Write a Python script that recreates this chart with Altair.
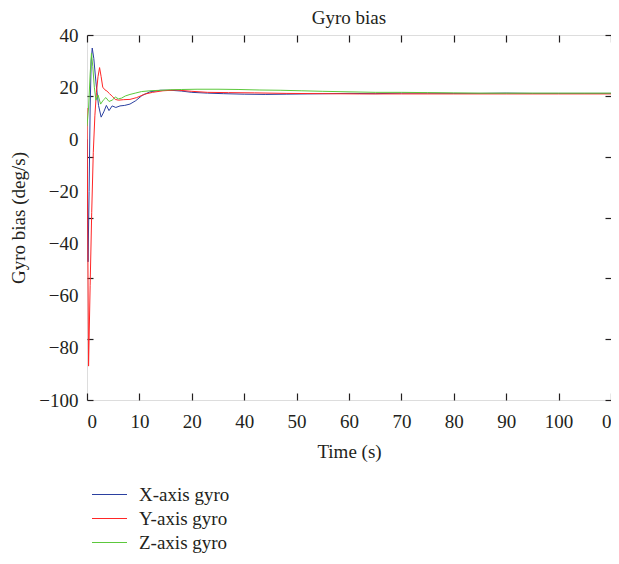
import altair as alt
import pandas as pd

FONT = "Liberation Serif"
INK = "#231f20"

# ---- data (time in axis units, bias in deg/s) ----
x_gyro_t = [0, 0.2, 0.4, 0.6, 0.8, 1.0, 1.3, 1.7, 2.2, 2.7, 3.2, 3.7, 4.2, 4.8, 5.5, 6.3, 7.2, 8.2,
            9.3, 10.5, 12, 14, 16, 18, 20, 23, 26, 30, 34, 38, 42, 46, 50, 55, 60, 65, 70, 75, 80,
            85, 90, 95, 100]
x_gyro_v = [0, -47, -20, 12, 30, 35, 31, 22, 13, 8.5, 10.5, 13, 11, 12.8, 12.2, 12.8, 13, 13.5,
            14.8, 16.8, 18.2, 18.8, 18.8, 18.5, 18.0, 17.7, 17.5, 17.3, 17.2, 17.3, 17.4, 17.5, 17.6,
            17.5, 17.7, 17.7, 17.6, 17.6, 17.7, 17.6, 17.6, 17.6, 17.6]

y_gyro_t = [0, 0.3, 0.6, 0.9, 1.2, 1.5, 1.8, 2.1, 2.4, 2.7, 3.0, 3.4, 3.8, 4.3, 4.8, 5.4, 6.0, 7.0,
            8.2, 9.5, 11, 12.5, 14.5, 17, 20, 23, 27, 32, 38, 45, 52, 60, 70, 80, 90, 100]
y_gyro_v = [12, -87, -56, -28, -5, 9, 18, 24, 27.5, 24, 20, 19, 18.5, 17.5, 16.5, 15.3, 15.0, 15.2,
            15.3, 16, 17.3, 18.0, 18.6, 18.9, 18.4, 18.0, 17.9, 17.8, 17.6, 17.5, 17.4, 17.4, 17.4,
            17.4, 17.4, 17.4]

z_gyro_t = [0, 0.3, 0.6, 0.85, 1.1, 1.4, 1.7, 2.1, 2.6, 3.1, 3.6, 4.2, 4.8, 5.4, 6.0, 6.6, 7.3, 8.2,
            9.2, 10.4, 12, 14, 16, 18, 21, 25, 29, 33, 37, 41, 45, 50, 55, 60, 65, 70, 75, 80, 90, 100]
z_gyro_v = [5, 12, 25, 33, 28, 20, 15, 17, 13.5, 15, 16, 14.5, 15, 16.2, 15.5, 15.8, 16.6, 17.2,
            17.7, 18.3, 18.6, 18.8, 19.0, 19.1, 19.2, 19.2, 19.1, 18.9, 18.8, 18.6, 18.4, 18.2, 18.0,
            18.0, 17.9, 17.8, 17.7, 17.7, 17.7, 17.7]

series_names = ["X-axis gyro", "Y-axis gyro", "Z-axis gyro"]
series_colors = ["#2b40a0", "#ff2626", "#5cc83c"]

x_tick_values = [0, 10, 20, 30, 40, 50, 60, 70, 80, 90, 100]
x_tick_labels = ["0", "10", "20", "40", "50", "60", "70", "80", "90", "100", "0"]
y_label_values = [40, 20, 0, -20, -40, -60, -80, -100]
y_tick_values = [40 - k * 140 / 6 for k in range(7)]

rows = []
for name, ts, vs in zip(series_names, [x_gyro_t, y_gyro_t, z_gyro_t], [x_gyro_v, y_gyro_v, z_gyro_v]):
    for i, (t, v) in enumerate(zip(ts, vs)):
        rows.append({"series": name, "t": t, "v": v, "order": i})
df = pd.DataFrame(rows)

xscale = alt.Scale(domain=[0, 100], nice=False, zero=False)
yscale = alt.Scale(domain=[-100, 40], nice=False, zero=False)

x_label_expr = "[" + ",".join("'%s'" % s for s in x_tick_labels) + "][round(datum.value / 10)]"

base = alt.Chart(df)

lines = base.mark_line(strokeWidth=1, clip=True).encode(
    x=alt.X("t:Q", scale=xscale, axis=alt.Axis(
        values=x_tick_values, labelExpr=x_label_expr, ticks=False, tickSize=0, domain=False,
        grid=False, title="Time (s)", labelPadding=12, titlePadding=11, labelFlush=True,
        labelOverlap=False, labelFont=FONT, labelFontSize=19, labelColor=INK,
        titleFont=FONT, titleFontSize=19, titleFontWeight="normal", titleColor=INK)),
    y=alt.Y("v:Q", scale=yscale, axis=alt.Axis(
        values=y_label_values, labelExpr="replace(datum.label, '-', '\u2212')", ticks=False,
        tickSize=0, domain=False, grid=False, title="Gyro bias (deg/s)", labelPadding=9,
        titlePadding=10, labelFlush=False, labelOverlap=False, labelFont=FONT, labelFontSize=19,
        labelColor=INK, titleFont=FONT, titleFontSize=19, titleFontWeight="normal",
        titleColor=INK)),
    color=alt.Color("series:N", scale=alt.Scale(domain=series_names, range=series_colors),
                    legend=alt.Legend(title=None, orient="none", legendX=13, legendY=450,
                                      symbolType="M-2.5,0H2.5", symbolSize=196,
                                      symbolStrokeWidth=1.2, labelFont=FONT, labelFontSize=19,
                                      labelColor=INK, labelOffset=20, rowPadding=4)),
    order="order:Q",
)


def tick_axis(orient, values, size):
    return alt.Axis(orient=orient, offset=-size, values=values, labels=False, domain=False,
                    grid=False, ticks=True, tickSize=size, tickColor=INK, tickWidth=1.2,
                    title=None)


ticks_bl = base.mark_line(opacity=0).encode(
    x=alt.X("t:Q", scale=xscale, axis=tick_axis("bottom", x_tick_values, 7)),
    y=alt.Y("v:Q", scale=yscale, axis=tick_axis("left", y_tick_values, 6)),
    detail="series:N",
)
ticks_tr = base.mark_line(opacity=0).encode(
    x=alt.X("t:Q", scale=xscale, axis=tick_axis("top", x_tick_values, 7)),
    y=alt.Y("v:Q", scale=yscale, axis=tick_axis("right", y_tick_values, 6)),
    detail="series:N",
)

chart = (
    alt.layer(lines, ticks_bl, ticks_tr)
    .resolve_scale(x="shared", y="shared")
    .resolve_axis(x="independent", y="independent")
    .properties(
        width=524, height=365,
        padding={"left": 79, "top": 27, "right": 0, "bottom": 156},
        autosize=alt.AutoSizeParams(type="none"),
        title=alt.TitleParams(text="Gyro bias", font=FONT, fontSize=19, fontWeight="normal",
                              color=INK, anchor="middle", frame="group", baseline="alphabetic",
                              offset=12, dy=29),
    )
    .configure_view(fill="#fbfbfb", stroke=INK, strokeWidth=1.3)
    .configure(background="white")
)

chart.save("out.html", embed_options={"renderer": "svg", "actions": False})
